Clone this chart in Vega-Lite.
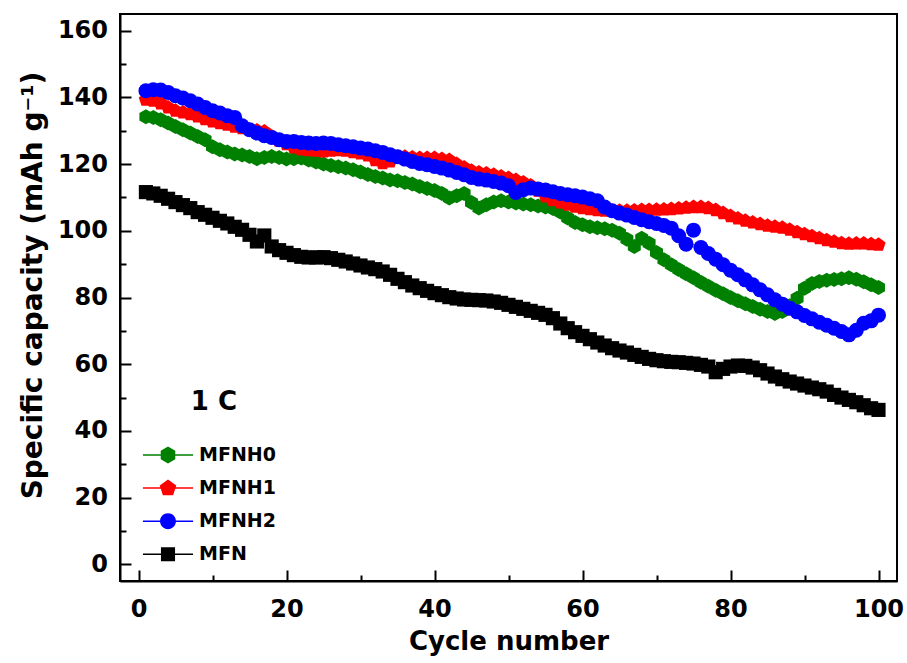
{
  "$schema": "https://vega.github.io/schema/vega-lite/v6.json",
  "autosize": {"type": "none"},
  "width": 777,
  "height": 567,
  "padding": {"left": 120, "top": 14, "right": 10, "bottom": 82},
  "background": "white",
  "config": {
    "font": "DejaVu Sans",
    "view": {"stroke": "black", "strokeWidth": 2},
    "axis": {
      "labelFont": "DejaVu Sans", "labelFontWeight": "bold", "labelFontSize": 24, "labelColor": "black",
      "titleFont": "DejaVu Sans", "titleFontWeight": "bold", "titleColor": "black",
      "domainColor": "black", "domainWidth": 2, "tickColor": "black", "tickWidth": 2, "grid": false
    },
    "legend": {
      "orient": "none", "legendX": 33, "legendY": 426, "padding": 0,
      "symbolSize": 900, "symbolStrokeWidth": 0, "symbolOpacity": 1,
      "labelFont": "DejaVu Sans", "labelFontWeight": "bold", "labelFontSize": 19, "labelColor": "black",
      "labelOffset": 16, "rowPadding": 8.1
    }
  },
  "resolve": {"axis": {"x": "independent", "y": "independent"}},
  "layer": [
    {
      "data": {"values": [
        {"series":"MFN","cycle":1,"capacity":111.6},{"series":"MFN","cycle":2,"capacity":111.2},{"series":"MFN","cycle":3,"capacity":110.5},{"series":"MFN","cycle":4,"capacity":109.6},{"series":"MFN","cycle":5,"capacity":108.6},{"series":"MFN","cycle":6,"capacity":107.7},{"series":"MFN","cycle":7,"capacity":106.8},{"series":"MFN","cycle":8,"capacity":105.6},{"series":"MFN","cycle":9,"capacity":104.8},{"series":"MFN","cycle":10,"capacity":103.9},
        {"series":"MFN","cycle":11,"capacity":103.0},{"series":"MFN","cycle":12,"capacity":102.2},{"series":"MFN","cycle":13,"capacity":101.2},{"series":"MFN","cycle":14,"capacity":100.3},{"series":"MFN","cycle":15,"capacity":98.8},{"series":"MFN","cycle":16,"capacity":96.8},{"series":"MFN","cycle":17,"capacity":98.6},{"series":"MFN","cycle":18,"capacity":95.3},{"series":"MFN","cycle":19,"capacity":94.2},{"series":"MFN","cycle":20,"capacity":93.4},
        {"series":"MFN","cycle":21,"capacity":92.7},{"series":"MFN","cycle":22,"capacity":92.2},{"series":"MFN","cycle":23,"capacity":92.0},{"series":"MFN","cycle":24,"capacity":92.0},{"series":"MFN","cycle":25,"capacity":92.1},{"series":"MFN","cycle":26,"capacity":91.8},{"series":"MFN","cycle":27,"capacity":91.3},{"series":"MFN","cycle":28,"capacity":90.8},{"series":"MFN","cycle":29,"capacity":90.2},{"series":"MFN","cycle":30,"capacity":89.6},
        {"series":"MFN","cycle":31,"capacity":89.0},{"series":"MFN","cycle":32,"capacity":88.5},{"series":"MFN","cycle":33,"capacity":87.8},{"series":"MFN","cycle":34,"capacity":86.8},{"series":"MFN","cycle":35,"capacity":85.6},{"series":"MFN","cycle":36,"capacity":84.6},{"series":"MFN","cycle":37,"capacity":83.6},{"series":"MFN","cycle":38,"capacity":82.8},{"series":"MFN","cycle":39,"capacity":82.0},{"series":"MFN","cycle":40,"capacity":81.3},
        {"series":"MFN","cycle":41,"capacity":80.7},{"series":"MFN","cycle":42,"capacity":80.1},{"series":"MFN","cycle":43,"capacity":79.7},{"series":"MFN","cycle":44,"capacity":79.4},{"series":"MFN","cycle":45,"capacity":79.3},{"series":"MFN","cycle":46,"capacity":79.2},{"series":"MFN","cycle":47,"capacity":79.1},{"series":"MFN","cycle":48,"capacity":78.8},{"series":"MFN","cycle":49,"capacity":78.4},{"series":"MFN","cycle":50,"capacity":77.8},
        {"series":"MFN","cycle":51,"capacity":77.2},{"series":"MFN","cycle":52,"capacity":76.6},{"series":"MFN","cycle":53,"capacity":76.0},{"series":"MFN","cycle":54,"capacity":75.4},{"series":"MFN","cycle":55,"capacity":74.8},{"series":"MFN","cycle":56,"capacity":73.8},{"series":"MFN","cycle":57,"capacity":72.2},{"series":"MFN","cycle":58,"capacity":70.8},{"series":"MFN","cycle":59,"capacity":69.6},{"series":"MFN","cycle":60,"capacity":68.5},
        {"series":"MFN","cycle":61,"capacity":67.5},{"series":"MFN","cycle":62,"capacity":66.5},{"series":"MFN","cycle":63,"capacity":65.6},{"series":"MFN","cycle":64,"capacity":64.8},{"series":"MFN","cycle":65,"capacity":64.1},{"series":"MFN","cycle":66,"capacity":63.5},{"series":"MFN","cycle":67,"capacity":62.8},{"series":"MFN","cycle":68,"capacity":62.2},{"series":"MFN","cycle":69,"capacity":61.6},{"series":"MFN","cycle":70,"capacity":61.2},
        {"series":"MFN","cycle":71,"capacity":60.9},{"series":"MFN","cycle":72,"capacity":60.7},{"series":"MFN","cycle":73,"capacity":60.6},{"series":"MFN","cycle":74,"capacity":60.4},{"series":"MFN","cycle":75,"capacity":60.2},{"series":"MFN","cycle":76,"capacity":59.8},{"series":"MFN","cycle":77,"capacity":59.3},{"series":"MFN","cycle":78,"capacity":57.6},{"series":"MFN","cycle":79,"capacity":58.6},{"series":"MFN","cycle":80,"capacity":59.3},
        {"series":"MFN","cycle":81,"capacity":59.6},{"series":"MFN","cycle":82,"capacity":59.5},{"series":"MFN","cycle":83,"capacity":59.0},{"series":"MFN","cycle":84,"capacity":58.2},{"series":"MFN","cycle":85,"capacity":57.2},{"series":"MFN","cycle":86,"capacity":56.3},{"series":"MFN","cycle":87,"capacity":55.5},{"series":"MFN","cycle":88,"capacity":54.8},{"series":"MFN","cycle":89,"capacity":54.2},{"series":"MFN","cycle":90,"capacity":53.6},
        {"series":"MFN","cycle":91,"capacity":53.0},{"series":"MFN","cycle":92,"capacity":52.5},{"series":"MFN","cycle":93,"capacity":51.8},{"series":"MFN","cycle":94,"capacity":50.8},{"series":"MFN","cycle":95,"capacity":50.0},{"series":"MFN","cycle":96,"capacity":49.3},{"series":"MFN","cycle":97,"capacity":48.6},{"series":"MFN","cycle":98,"capacity":47.7},{"series":"MFN","cycle":99,"capacity":46.8},{"series":"MFN","cycle":100,"capacity":46.3},

        {"series":"MFNH0","cycle":1,"capacity":134.2},{"series":"MFNH0","cycle":2,"capacity":134.0},{"series":"MFNH0","cycle":3,"capacity":133.3},{"series":"MFNH0","cycle":4,"capacity":132.3},{"series":"MFNH0","cycle":5,"capacity":131.3},{"series":"MFNH0","cycle":6,"capacity":130.3},{"series":"MFNH0","cycle":7,"capacity":129.3},{"series":"MFNH0","cycle":8,"capacity":128.3},{"series":"MFNH0","cycle":9,"capacity":127.3},{"series":"MFNH0","cycle":10,"capacity":125.2},
        {"series":"MFNH0","cycle":11,"capacity":124.3},{"series":"MFNH0","cycle":12,"capacity":123.6},{"series":"MFNH0","cycle":13,"capacity":123.0},{"series":"MFNH0","cycle":14,"capacity":122.7},{"series":"MFNH0","cycle":15,"capacity":122.3},{"series":"MFNH0","cycle":16,"capacity":121.6},{"series":"MFNH0","cycle":17,"capacity":122.0},{"series":"MFNH0","cycle":18,"capacity":122.3},{"series":"MFNH0","cycle":19,"capacity":122.0},{"series":"MFNH0","cycle":20,"capacity":121.5},
        {"series":"MFNH0","cycle":21,"capacity":121.6},{"series":"MFNH0","cycle":22,"capacity":121.8},{"series":"MFNH0","cycle":23,"capacity":121.2},{"series":"MFNH0","cycle":24,"capacity":120.6},{"series":"MFNH0","cycle":25,"capacity":120.0},{"series":"MFNH0","cycle":26,"capacity":119.6},{"series":"MFNH0","cycle":27,"capacity":119.2},{"series":"MFNH0","cycle":28,"capacity":118.8},{"series":"MFNH0","cycle":29,"capacity":118.3},{"series":"MFNH0","cycle":30,"capacity":117.6},
        {"series":"MFNH0","cycle":31,"capacity":116.9},{"series":"MFNH0","cycle":32,"capacity":116.3},{"series":"MFNH0","cycle":33,"capacity":115.8},{"series":"MFNH0","cycle":34,"capacity":115.2},{"series":"MFNH0","cycle":35,"capacity":115.0},{"series":"MFNH0","cycle":36,"capacity":114.5},{"series":"MFNH0","cycle":37,"capacity":114.0},{"series":"MFNH0","cycle":38,"capacity":113.3},{"series":"MFNH0","cycle":39,"capacity":112.7},{"series":"MFNH0","cycle":40,"capacity":112.1},
        {"series":"MFNH0","cycle":41,"capacity":111.2},{"series":"MFNH0","cycle":42,"capacity":109.8},{"series":"MFNH0","cycle":43,"capacity":110.5},{"series":"MFNH0","cycle":44,"capacity":111.2},{"series":"MFNH0","cycle":45,"capacity":108.5},{"series":"MFNH0","cycle":46,"capacity":106.8},{"series":"MFNH0","cycle":47,"capacity":107.8},{"series":"MFNH0","cycle":48,"capacity":108.6},{"series":"MFNH0","cycle":49,"capacity":109.0},{"series":"MFNH0","cycle":50,"capacity":108.6},
        {"series":"MFNH0","cycle":51,"capacity":108.3},{"series":"MFNH0","cycle":52,"capacity":108.0},{"series":"MFNH0","cycle":53,"capacity":107.8},{"series":"MFNH0","cycle":54,"capacity":107.4},{"series":"MFNH0","cycle":55,"capacity":107.1},{"series":"MFNH0","cycle":56,"capacity":106.7},{"series":"MFNH0","cycle":57,"capacity":105.6},{"series":"MFNH0","cycle":58,"capacity":103.8},{"series":"MFNH0","cycle":59,"capacity":102.5},{"series":"MFNH0","cycle":60,"capacity":101.8},
        {"series":"MFNH0","cycle":61,"capacity":101.2},{"series":"MFNH0","cycle":62,"capacity":100.9},{"series":"MFNH0","cycle":63,"capacity":100.6},{"series":"MFNH0","cycle":64,"capacity":100.2},{"series":"MFNH0","cycle":65,"capacity":99.3},{"series":"MFNH0","cycle":66,"capacity":97.5},{"series":"MFNH0","cycle":67,"capacity":95.3},{"series":"MFNH0","cycle":68,"capacity":97.8},{"series":"MFNH0","cycle":69,"capacity":96.3},{"series":"MFNH0","cycle":70,"capacity":93.5},
        {"series":"MFNH0","cycle":71,"capacity":91.3},{"series":"MFNH0","cycle":72,"capacity":89.8},{"series":"MFNH0","cycle":73,"capacity":88.4},{"series":"MFNH0","cycle":74,"capacity":87.1},{"series":"MFNH0","cycle":75,"capacity":85.9},{"series":"MFNH0","cycle":76,"capacity":84.6},{"series":"MFNH0","cycle":77,"capacity":83.4},{"series":"MFNH0","cycle":78,"capacity":82.2},{"series":"MFNH0","cycle":79,"capacity":81.1},{"series":"MFNH0","cycle":80,"capacity":80.0},
        {"series":"MFNH0","cycle":81,"capacity":79.0},{"series":"MFNH0","cycle":82,"capacity":78.1},{"series":"MFNH0","cycle":83,"capacity":77.3},{"series":"MFNH0","cycle":84,"capacity":76.5},{"series":"MFNH0","cycle":85,"capacity":75.8},{"series":"MFNH0","cycle":86,"capacity":75.2},{"series":"MFNH0","cycle":87,"capacity":75.8},{"series":"MFNH0","cycle":88,"capacity":77.5},{"series":"MFNH0","cycle":89,"capacity":79.8},{"series":"MFNH0","cycle":90,"capacity":82.8},
        {"series":"MFNH0","cycle":91,"capacity":84.2},{"series":"MFNH0","cycle":92,"capacity":84.8},{"series":"MFNH0","cycle":93,"capacity":85.2},{"series":"MFNH0","cycle":94,"capacity":85.4},{"series":"MFNH0","cycle":95,"capacity":85.6},{"series":"MFNH0","cycle":96,"capacity":85.9},{"series":"MFNH0","cycle":97,"capacity":85.5},{"series":"MFNH0","cycle":98,"capacity":84.7},{"series":"MFNH0","cycle":99,"capacity":83.8},{"series":"MFNH0","cycle":100,"capacity":83.0},

        {"series":"MFNH1","cycle":1,"capacity":139.3},{"series":"MFNH1","cycle":2,"capacity":139.0},{"series":"MFNH1","cycle":3,"capacity":138.2},{"series":"MFNH1","cycle":4,"capacity":137.0},{"series":"MFNH1","cycle":5,"capacity":136.0},{"series":"MFNH1","cycle":6,"capacity":135.5},{"series":"MFNH1","cycle":7,"capacity":135.0},{"series":"MFNH1","cycle":8,"capacity":134.3},{"series":"MFNH1","cycle":9,"capacity":133.5},{"series":"MFNH1","cycle":10,"capacity":132.8},
        {"series":"MFNH1","cycle":11,"capacity":132.3},{"series":"MFNH1","cycle":12,"capacity":131.8},{"series":"MFNH1","cycle":13,"capacity":131.2},{"series":"MFNH1","cycle":14,"capacity":130.8},{"series":"MFNH1","cycle":15,"capacity":130.3},{"series":"MFNH1","cycle":16,"capacity":130.1},{"series":"MFNH1","cycle":17,"capacity":129.8},{"series":"MFNH1","cycle":18,"capacity":128.3},{"series":"MFNH1","cycle":19,"capacity":127.0},{"series":"MFNH1","cycle":20,"capacity":126.0},
        {"series":"MFNH1","cycle":21,"capacity":125.0},{"series":"MFNH1","cycle":22,"capacity":124.4},{"series":"MFNH1","cycle":23,"capacity":124.2},{"series":"MFNH1","cycle":24,"capacity":124.0},{"series":"MFNH1","cycle":25,"capacity":123.8},{"series":"MFNH1","cycle":26,"capacity":124.0},{"series":"MFNH1","cycle":27,"capacity":124.2},{"series":"MFNH1","cycle":28,"capacity":124.0},{"series":"MFNH1","cycle":29,"capacity":123.6},{"series":"MFNH1","cycle":30,"capacity":123.2},
        {"series":"MFNH1","cycle":31,"capacity":122.6},{"series":"MFNH1","cycle":32,"capacity":121.2},{"series":"MFNH1","cycle":33,"capacity":120.3},{"series":"MFNH1","cycle":34,"capacity":120.8},{"series":"MFNH1","cycle":35,"capacity":122.0},{"series":"MFNH1","cycle":36,"capacity":122.2},{"series":"MFNH1","cycle":37,"capacity":122.0},{"series":"MFNH1","cycle":38,"capacity":121.8},{"series":"MFNH1","cycle":39,"capacity":121.8},{"series":"MFNH1","cycle":40,"capacity":121.8},
        {"series":"MFNH1","cycle":41,"capacity":121.5},{"series":"MFNH1","cycle":42,"capacity":121.2},{"series":"MFNH1","cycle":43,"capacity":120.0},{"series":"MFNH1","cycle":44,"capacity":119.0},{"series":"MFNH1","cycle":45,"capacity":118.0},{"series":"MFNH1","cycle":46,"capacity":117.5},{"series":"MFNH1","cycle":47,"capacity":117.2},{"series":"MFNH1","cycle":48,"capacity":116.8},{"series":"MFNH1","cycle":49,"capacity":116.3},{"series":"MFNH1","cycle":50,"capacity":115.8},
        {"series":"MFNH1","cycle":51,"capacity":115.2},{"series":"MFNH1","cycle":52,"capacity":114.5},{"series":"MFNH1","cycle":53,"capacity":113.6},{"series":"MFNH1","cycle":54,"capacity":112.0},{"series":"MFNH1","cycle":55,"capacity":110.3},{"series":"MFNH1","cycle":56,"capacity":109.2},{"series":"MFNH1","cycle":57,"capacity":108.5},{"series":"MFNH1","cycle":58,"capacity":107.8},{"series":"MFNH1","cycle":59,"capacity":107.2},{"series":"MFNH1","cycle":60,"capacity":106.8},
        {"series":"MFNH1","cycle":61,"capacity":106.5},{"series":"MFNH1","cycle":62,"capacity":106.2},{"series":"MFNH1","cycle":63,"capacity":106.0},{"series":"MFNH1","cycle":64,"capacity":106.0},{"series":"MFNH1","cycle":65,"capacity":106.0},{"series":"MFNH1","cycle":66,"capacity":106.0},{"series":"MFNH1","cycle":67,"capacity":106.1},{"series":"MFNH1","cycle":68,"capacity":106.2},{"series":"MFNH1","cycle":69,"capacity":106.2},{"series":"MFNH1","cycle":70,"capacity":106.3},
        {"series":"MFNH1","cycle":71,"capacity":106.4},{"series":"MFNH1","cycle":72,"capacity":106.5},{"series":"MFNH1","cycle":73,"capacity":106.7},{"series":"MFNH1","cycle":74,"capacity":106.9},{"series":"MFNH1","cycle":75,"capacity":107.1},{"series":"MFNH1","cycle":76,"capacity":107.1},{"series":"MFNH1","cycle":77,"capacity":106.8},{"series":"MFNH1","cycle":78,"capacity":106.2},{"series":"MFNH1","cycle":79,"capacity":105.3},{"series":"MFNH1","cycle":80,"capacity":104.4},
        {"series":"MFNH1","cycle":81,"capacity":103.7},{"series":"MFNH1","cycle":82,"capacity":103.0},{"series":"MFNH1","cycle":83,"capacity":102.5},{"series":"MFNH1","cycle":84,"capacity":102.0},{"series":"MFNH1","cycle":85,"capacity":101.5},{"series":"MFNH1","cycle":86,"capacity":101.2},{"series":"MFNH1","cycle":87,"capacity":100.9},{"series":"MFNH1","cycle":88,"capacity":100.3},{"series":"MFNH1","cycle":89,"capacity":99.6},{"series":"MFNH1","cycle":90,"capacity":99.0},
        {"series":"MFNH1","cycle":91,"capacity":98.4},{"series":"MFNH1","cycle":92,"capacity":97.8},{"series":"MFNH1","cycle":93,"capacity":97.2},{"series":"MFNH1","cycle":94,"capacity":96.7},{"series":"MFNH1","cycle":95,"capacity":96.3},{"series":"MFNH1","cycle":96,"capacity":96.1},{"series":"MFNH1","cycle":97,"capacity":96.2},{"series":"MFNH1","cycle":98,"capacity":96.2},{"series":"MFNH1","cycle":99,"capacity":96.0},{"series":"MFNH1","cycle":100,"capacity":95.8},

        {"series":"MFNH2","cycle":1,"capacity":142.0},{"series":"MFNH2","cycle":2,"capacity":142.3},{"series":"MFNH2","cycle":3,"capacity":142.2},{"series":"MFNH2","cycle":4,"capacity":141.5},{"series":"MFNH2","cycle":5,"capacity":140.5},{"series":"MFNH2","cycle":6,"capacity":139.8},{"series":"MFNH2","cycle":7,"capacity":139.0},{"series":"MFNH2","cycle":8,"capacity":138.0},{"series":"MFNH2","cycle":9,"capacity":137.0},{"series":"MFNH2","cycle":10,"capacity":136.0},
        {"series":"MFNH2","cycle":11,"capacity":135.3},{"series":"MFNH2","cycle":12,"capacity":134.5},{"series":"MFNH2","cycle":13,"capacity":134.0},{"series":"MFNH2","cycle":14,"capacity":131.5},{"series":"MFNH2","cycle":15,"capacity":130.3},{"series":"MFNH2","cycle":16,"capacity":129.3},{"series":"MFNH2","cycle":17,"capacity":128.5},{"series":"MFNH2","cycle":18,"capacity":128.0},{"series":"MFNH2","cycle":19,"capacity":127.3},{"series":"MFNH2","cycle":20,"capacity":126.8},
        {"series":"MFNH2","cycle":21,"capacity":126.8},{"series":"MFNH2","cycle":22,"capacity":126.5},{"series":"MFNH2","cycle":23,"capacity":126.3},{"series":"MFNH2","cycle":24,"capacity":126.2},{"series":"MFNH2","cycle":25,"capacity":126.3},{"series":"MFNH2","cycle":26,"capacity":126.2},{"series":"MFNH2","cycle":27,"capacity":125.8},{"series":"MFNH2","cycle":28,"capacity":125.5},{"series":"MFNH2","cycle":29,"capacity":125.2},{"series":"MFNH2","cycle":30,"capacity":124.8},
        {"series":"MFNH2","cycle":31,"capacity":124.5},{"series":"MFNH2","cycle":32,"capacity":124.0},{"series":"MFNH2","cycle":33,"capacity":123.5},{"series":"MFNH2","cycle":34,"capacity":122.8},{"series":"MFNH2","cycle":35,"capacity":122.2},{"series":"MFNH2","cycle":36,"capacity":121.5},{"series":"MFNH2","cycle":37,"capacity":120.8},{"series":"MFNH2","cycle":38,"capacity":120.2},{"series":"MFNH2","cycle":39,"capacity":119.8},{"series":"MFNH2","cycle":40,"capacity":119.3},
        {"series":"MFNH2","cycle":41,"capacity":118.8},{"series":"MFNH2","cycle":42,"capacity":118.2},{"series":"MFNH2","cycle":43,"capacity":117.5},{"series":"MFNH2","cycle":44,"capacity":116.8},{"series":"MFNH2","cycle":45,"capacity":116.0},{"series":"MFNH2","cycle":46,"capacity":115.5},{"series":"MFNH2","cycle":47,"capacity":115.2},{"series":"MFNH2","cycle":48,"capacity":114.8},{"series":"MFNH2","cycle":49,"capacity":114.3},{"series":"MFNH2","cycle":50,"capacity":113.5},
        {"series":"MFNH2","cycle":51,"capacity":111.5},{"series":"MFNH2","cycle":52,"capacity":112.3},{"series":"MFNH2","cycle":53,"capacity":112.8},{"series":"MFNH2","cycle":54,"capacity":112.5},{"series":"MFNH2","cycle":55,"capacity":112.2},{"series":"MFNH2","cycle":56,"capacity":111.7},{"series":"MFNH2","cycle":57,"capacity":111.2},{"series":"MFNH2","cycle":58,"capacity":110.8},{"series":"MFNH2","cycle":59,"capacity":110.5},{"series":"MFNH2","cycle":60,"capacity":110.1},
        {"series":"MFNH2","cycle":61,"capacity":109.6},{"series":"MFNH2","cycle":62,"capacity":109.0},{"series":"MFNH2","cycle":63,"capacity":107.1},{"series":"MFNH2","cycle":64,"capacity":106.0},{"series":"MFNH2","cycle":65,"capacity":105.3},{"series":"MFNH2","cycle":66,"capacity":104.7},{"series":"MFNH2","cycle":67,"capacity":104.0},{"series":"MFNH2","cycle":68,"capacity":103.3},{"series":"MFNH2","cycle":69,"capacity":102.7},{"series":"MFNH2","cycle":70,"capacity":102.2},
        {"series":"MFNH2","cycle":71,"capacity":101.6},{"series":"MFNH2","cycle":72,"capacity":100.8},{"series":"MFNH2","cycle":73,"capacity":98.5},{"series":"MFNH2","cycle":74,"capacity":96.0},{"series":"MFNH2","cycle":75,"capacity":100.2},{"series":"MFNH2","cycle":76,"capacity":95.0},{"series":"MFNH2","cycle":77,"capacity":93.2},{"series":"MFNH2","cycle":78,"capacity":91.5},{"series":"MFNH2","cycle":79,"capacity":89.8},{"series":"MFNH2","cycle":80,"capacity":88.2},
        {"series":"MFNH2","cycle":81,"capacity":86.8},{"series":"MFNH2","cycle":82,"capacity":85.3},{"series":"MFNH2","cycle":83,"capacity":83.8},{"series":"MFNH2","cycle":84,"capacity":82.3},{"series":"MFNH2","cycle":85,"capacity":80.8},{"series":"MFNH2","cycle":86,"capacity":79.3},{"series":"MFNH2","cycle":87,"capacity":78.0},{"series":"MFNH2","cycle":88,"capacity":76.8},{"series":"MFNH2","cycle":89,"capacity":75.7},{"series":"MFNH2","cycle":90,"capacity":74.6},
        {"series":"MFNH2","cycle":91,"capacity":73.6},{"series":"MFNH2","cycle":92,"capacity":72.6},{"series":"MFNH2","cycle":93,"capacity":71.7},{"series":"MFNH2","cycle":94,"capacity":70.8},{"series":"MFNH2","cycle":95,"capacity":69.8},{"series":"MFNH2","cycle":96,"capacity":68.8},{"series":"MFNH2","cycle":97,"capacity":70.2},{"series":"MFNH2","cycle":98,"capacity":72.3},{"series":"MFNH2","cycle":99,"capacity":73.0},{"series":"MFNH2","cycle":100,"capacity":74.7}
      ]},
      "encoding": {
        "x": {
          "field": "cycle", "type": "quantitative",
          "scale": {"domain": [-2.5, 102.5], "nice": false, "zero": false},
          "axis": {"orient": "bottom", "values": [0, 20, 40, 60, 80, 100], "tickSize": -11, "labelPadding": 27, "labelFlush": false,
                   "title": "Cycle number", "titleFontSize": 26, "titlePadding": 7}
        },
        "y": {
          "field": "capacity", "type": "quantitative",
          "scale": {"domain": [-5, 165], "nice": false, "zero": false},
          "axis": {"orient": "left", "values": [0, 20, 40, 60, 80, 100, 120, 140, 160], "tickSize": -11, "labelPadding": 23.5, "labelFlush": false,
                   "title": "Specific capacity (mAh g⁻¹)", "titleFontSize": 28, "titlePadding": 10, "titleY": 271}
        },
        "color": {
          "field": "series", "type": "nominal",
          "scale": {"domain": ["MFNH0", "MFNH1", "MFNH2", "MFN"], "range": ["#008000", "#ff0000", "#0000ff", "#000000"]},
          "legend": {"title": null}
        }
      },
      "layer": [
        {"transform": [{"filter": "datum.series === 'MFN'"}],
         "mark": {"type": "point", "filled": true, "size": 200, "opacity": 1, "strokeWidth": 0, "shape": "square"}},
        {"transform": [{"filter": "datum.series === 'MFNH0'"}],
         "mark": {"type": "point", "filled": true, "size": 225, "opacity": 1, "strokeWidth": 0, "shape": "M0,-1L0.866,-0.5L0.866,0.5L0,1L-0.866,0.5L-0.866,-0.5Z"}},
        {"transform": [{"filter": "datum.series === 'MFNH1'"}],
         "mark": {"type": "point", "filled": true, "size": 225, "opacity": 1, "strokeWidth": 0, "shape": "M0,-1L0.951,-0.309L0.588,0.809L-0.588,0.809L-0.951,-0.309Z"}},
        {"transform": [{"filter": "datum.series === 'MFNH2'"}],
         "mark": {"type": "point", "filled": true, "size": 225, "opacity": 1, "strokeWidth": 0, "shape": "circle"}},
        {"transform": [{"filter": "datum.series === 'none'"}],
         "mark": {"type": "point", "filled": true, "opacity": 1, "strokeWidth": 0},
         "encoding": {
           "shape": {"field": "series", "type": "nominal",
             "scale": {"domain": ["MFNH0", "MFNH1", "MFNH2", "MFN"],
                       "range": [
                         "M-1.67,-0.05H1.67V0.05H-1.67Z M0,-0.56L0.485,-0.28L0.485,0.28L0,0.56L-0.485,0.28L-0.485,-0.28Z",
                         "M-1.67,-0.05H1.67V0.05H-1.67Z M0,-0.58L0.552,-0.179L0.341,0.469L-0.341,0.469L-0.552,-0.179Z",
                         "M-1.67,-0.05H1.67V0.05H-1.67Z M-0.53,0A0.53,0.53 0 1,1 0.53,0A0.53,0.53 0 1,1 -0.53,0Z",
                         "M-1.67,-0.05H1.67V0.05H-1.67Z M-0.47,-0.47H0.47V0.47H-0.47Z"]},
             "legend": {"title": null}}
         }}
      ]
    },
    {
      "data": {"values": [{"label": "1 C"}]},
      "mark": {"type": "text", "font": "DejaVu Sans", "fontWeight": "bold", "fontSize": 26, "align": "center", "baseline": "middle", "color": "black"},
      "encoding": {
        "x": {"datum": 10.2, "type": "quantitative",
              "axis": {"orient": "bottom", "values": [10, 30, 50, 70, 90], "tickSize": -6, "labels": false, "domain": false, "title": null}},
        "y": {"datum": 48.6, "type": "quantitative",
              "axis": {"orient": "left", "values": [10, 30, 50, 70, 90, 110, 130, 150], "tickSize": -6, "labels": false, "domain": false, "title": null}},
        "text": {"field": "label"}
      }
    }
  ]
}
